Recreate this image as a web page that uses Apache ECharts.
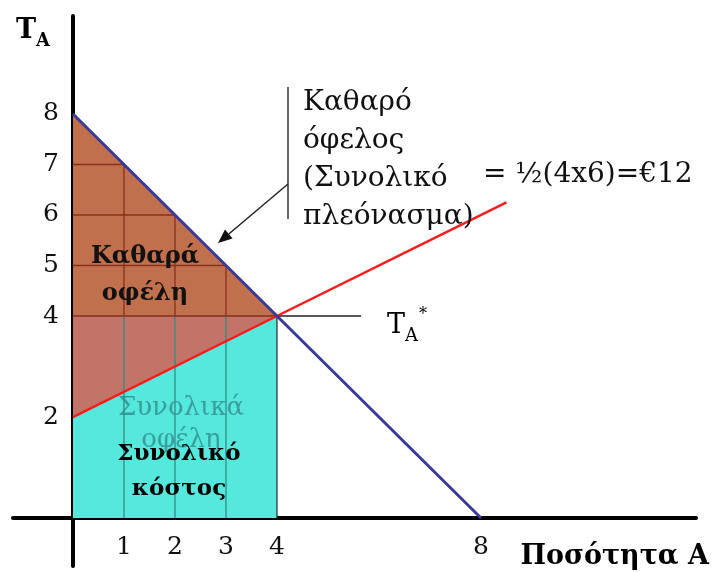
<!DOCTYPE html>
<html style="height: 100%">
   <head>
       <meta charset="utf-8">
   </head>
   <body style="height: 100%; margin: 0">
       <div id="container" style="width: 713px; height: 572px"></div>
       <script src="https://cdn.jsdelivr.net/npm/echarts@6/dist/echarts.min.js"></script>
       <script type="text/javascript">
// demand (blue) and supply (red) lines
var demandX = [0, 4, 8];
var demandY = [8, 4, 0];
var supplyX = [0, 4, 8.5];
var supplyY = [2, 4, 6.25];
// shaded regions
var costRect = [[0, 0], [4, 0], [4, 4], [0, 4]];
var netTop = [[0, 8], [4, 4], [0, 4]];
var netLow = [[0, 4], [4, 4], [0, 2]];
// grid cells inside the areas
var gridX = [1, 2, 3];
var gridXTop = [7, 6, 5];
var gridY = [5, 6, 7];
var gridYRight = [3, 2, 1];
var eqX = 4, eqY = 4, eqLineEnd = 5.65;
var xTicks = [1, 2, 3, 4, 8];
var yTicks = [2, 4, 5, 6, 7, 8];

var serif = 'DejaVu Serif';

function pairs(xs, ys) {
    return xs.map(function (x, i) { return [x, ys[i]]; });
}

function polySeries(points, color, z) {
    return {
        type: 'custom',
        z: z,
        silent: true,
        data: [0],
        renderItem: function (params, api) {
            return {
                type: 'polygon',
                shape: { points: points.map(function (p) { return api.coord(p); }) },
                style: { fill: color }
            };
        }
    };
}

function segSeries(segs, color, width, z) {
    return {
        type: 'custom',
        z: z,
        silent: true,
        data: segs,
        encode: { x: [0, 2], y: [1, 3] },
        renderItem: function (params, api) {
            var a = api.coord([api.value(0), api.value(1)]);
            var b = api.coord([api.value(2), api.value(3)]);
            return {
                type: 'line',
                shape: { x1: a[0], y1: a[1], x2: b[0], y2: b[1] },
                style: { stroke: color, lineWidth: width }
            };
        }
    };
}

// tick labels placed through the axis scales
function tickSeries(points, align, dx, dy) {
    return {
        type: 'custom',
        z: 10,
        silent: true,
        clip: false,
        data: points,
        renderItem: function (params, api) {
            var p = api.coord([api.value(0), api.value(1)]);
            return {
                type: 'text',
                style: {
                    x: p[0] + dx, y: p[1] + dy,
                    text: String(api.value(2)),
                    align: align, verticalAlign: 'middle',
                    fontSize: 25, fontFamily: serif, fill: '#111'
                }
            };
        }
    };
}

var cyanGrid = gridX.map(function (x) { return [x, 0, x, eqY]; });
var brownGrid = gridX.map(function (x, i) { return [x, eqY, x, gridXTop[i]]; })
    .concat(gridY.map(function (y, i) { return [0, y, gridYRight[i], y]; }))
    .concat([[0, eqY, eqX, eqY]]);

var dom = document.getElementById("container");
var myChart = echarts.init(dom);
var option = {
    animation: false,
    grid: { left: 13, right: 17, top: 16, bottom: 6, containLabel: false, outerBoundsMode: 'none' },
    xAxis: {
        type: 'value',
        min: -1.176,
        max: 12.216,
        axisLine: { onZero: true, lineStyle: { color: '#000', width: 4 } },
        axisTick: { show: false },
        splitLine: { show: false },
        axisLabel: { show: false }
    },
    yAxis: {
        type: 'value',
        min: -0.95,
        max: 9.94,
        axisLine: { onZero: true, lineStyle: { color: '#000', width: 4 } },
        axisTick: { show: false },
        splitLine: { show: false },
        axisLabel: { show: false }
    },
    series: [
        polySeries(costRect, '#55e9dd', 1),
        polySeries(netTop, '#c0704c', 2),
        polySeries(netLow, '#c27468', 2),
        segSeries(cyanGrid, '#2f8c86', 1.3, 3),
        segSeries(brownGrid, '#8b2e1e', 1.3, 3),
        segSeries([[eqX, 0, eqX, eqY]], '#333', 1.3, 3),
        segSeries([[eqX, eqY, eqLineEnd, eqY]], '#222', 1.5, 3),
        {
            type: 'line', z: 5, silent: true, symbol: 'none',
            data: pairs(supplyX, supplyY),
            lineStyle: { color: '#ff1a1a', width: 2.5 }
        },
        {
            type: 'line', z: 6, silent: true, symbol: 'none',
            data: pairs(demandX, demandY),
            lineStyle: { color: '#3a3a98', width: 3 }
        },
        tickSeries(xTicks.map(function (v) { return [v, 0, v]; }), 'center', 0, 29),
        tickSeries(yTicks.map(function (v) { return [0, v, v]; }), 'right', -14, 0)
    ],
    graphic: [
        { type: 'text', z: 10, style: { x: 16, y: 44, text: '{t|T}{s|A}', textVerticalAlign: 'bottom',
            rich: { t: { fontFamily: serif, fontWeight: 'bold', fontSize: 27, verticalAlign: 'bottom' },
                    s: { fontFamily: serif, fontWeight: 'bold', fontSize: 18, verticalAlign: 'bottom', padding: [0, 0, -6, 0] } } } },
        { type: 'text', z: 10, style: { x: 709, y: 557, text: 'Ποσότητα Α', textAlign: 'right', textVerticalAlign: 'middle',
            font: 'bold 27px "DejaVu Serif"', fill: '#000' } },
        { type: 'text', z: 10, style: { x: 145, y: 275, text: 'Καθαρά\nοφέλη', textAlign: 'center', textVerticalAlign: 'middle',
            font: 'bold 24px "DejaVu Serif"', lineHeight: 37, fill: '#111' } },
        { type: 'text', z: 4, style: { x: 181, y: 424, text: 'Συνολικά\nοφέλη', textAlign: 'center', textVerticalAlign: 'middle',
            font: '26px "DejaVu Serif"', lineHeight: 32, fill: 'rgba(50,140,140,0.8)' } },
        { type: 'text', z: 10, style: { x: 179, y: 472, text: 'Συνολικό\nκόστος', textAlign: 'center', textVerticalAlign: 'middle',
            font: 'bold 23px "DejaVu Serif"', lineHeight: 35, fill: '#000' } },
        { type: 'text', z: 10, style: { x: 303, y: 160, text: 'Καθαρό\nόφελος\n(Συνολικό\nπλεόνασμα)', textVerticalAlign: 'middle',
            font: '28px "DejaVu Serif"', lineHeight: 38, fill: '#111' } },
        { type: 'text', z: 10, style: { x: 483, y: 175, text: '= ½(4x6)=€12', textVerticalAlign: 'middle',
            font: '28px "DejaVu Serif"', fill: '#111' } },
        { type: 'text', z: 10, style: { x: 387, y: 339, text: '{t|T}{s|A}{a|*}', textVerticalAlign: 'bottom',
            rich: { t: { fontFamily: serif, fontSize: 27, verticalAlign: 'bottom', color: '#111' },
                    s: { fontFamily: serif, fontSize: 18, verticalAlign: 'bottom', padding: [0, 0, -6, 0], color: '#111' },
                    a: { fontFamily: serif, fontSize: 16, verticalAlign: 'top', padding: [0, 0, 16, 1], color: '#111' } } } },
        { type: 'line', z: 10, shape: { x1: 288, y1: 87, x2: 288, y2: 219 }, style: { stroke: '#333', lineWidth: 1.5 } },
        { type: 'line', z: 10, shape: { x1: 288, y1: 184, x2: 228.8, y2: 234 }, style: { stroke: '#222', lineWidth: 1.5 } },
        { type: 'polygon', z: 10, shape: { points: [[218, 243], [232.6, 238.6], [225, 229.4]] }, style: { fill: '#111' } }
    ]
};
myChart.setOption(option);
       </script>
   </body>
</html>
